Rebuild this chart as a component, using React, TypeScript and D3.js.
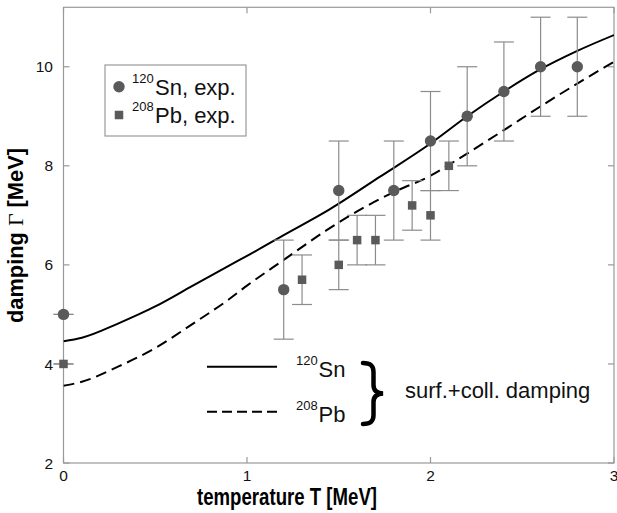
import React from "react";
import * as d3 from "d3";

// ---- data ----
const snT = [0, 1.2, 1.5, 1.8, 2.0, 2.2, 2.4, 2.6, 2.8];
const snG = [5.0, 5.5, 7.5, 7.5, 8.5, 9.0, 9.5, 10.0, 10.0];
const snErr = [0, 1, 1, 1, 1, 1, 1, 1, 1];

const pbT = [0, 1.3, 1.5, 1.6, 1.7, 1.9, 2.0, 2.1];
const pbG = [4.0, 5.7, 6.0, 6.5, 6.5, 7.2, 7.0, 8.0];
const pbErr = [0, 0.5, 0.5, 0.5, 0.5, 0.5, 0.5, 0.5];

const snCurveT = [0, 0.1, 0.3, 0.5, 0.7, 0.9, 1.0, 1.2, 1.45, 1.725, 2.0, 2.2, 2.4, 2.6, 2.8, 3.0];
const snCurveG = [4.46, 4.53, 4.82, 5.16, 5.57, 5.98, 6.18, 6.6, 7.12, 7.78, 8.45, 9.0, 9.5, 9.95, 10.32, 10.64];

const pbCurveT = [0, 0.1, 0.3, 0.5, 0.7, 0.9, 1.0, 1.2, 1.434, 1.6, 1.8, 2.0, 2.1, 2.4, 2.6, 2.8, 3.0];
const pbCurveG = [3.56, 3.64, 3.95, 4.32, 4.8, 5.3, 5.58, 6.1, 6.7, 7.08, 7.47, 7.8, 8.02, 8.72, 9.2, 9.66, 10.1];

const xTicks = [0, 1, 2, 3];
const yTicks = [2, 4, 6, 8, 10];

const FONT = "'Liberation Sans', Arial, Helvetica, sans-serif";

export default function App() {
  const L = 63.5, R = 614, T = 7.3, B = 463;
  const x = d3.scaleLinear().domain([0, 3]).range([L, R]);
  const y = d3.scaleLinear().domain([2, 11.2]).range([B, T]);

  const line = d3
    .line<[number, number]>()
    .x((d) => x(d[0]))
    .y((d) => y(d[1]))
    .curve(d3.curveMonotoneX);

  const snPath = line(snCurveT.map((t, i) => [t, snCurveG[i]]) as [number, number][]) || "";
  const pbPath = line(pbCurveT.map((t, i) => [t, pbCurveG[i]]) as [number, number][]) || "";

  const axisColor = "#999";
  const errColor = "#8c8c8c";
  const markColor = "#5a5a5a";
  const cap = 10;
  const tickLen = 6;

  const errBar = (t: number, g: number, e: number, key: string) => (
    <g key={key} stroke={errColor} strokeWidth={1.2}>
      <line x1={x(t)} x2={x(t)} y1={y(g - e)} y2={y(g + e)} />
      <line x1={x(t) - cap} x2={x(t) + cap} y1={y(g + e)} y2={y(g + e)} />
      <line x1={x(t) - cap} x2={x(t) + cap} y1={y(g - e)} y2={y(g - e)} />
    </g>
  );

  const sq = 8.5;

  return (
    <svg
      width={617}
      height={513}
      style={{ position: "absolute", left: 0, top: 0, background: "#fff" }}
      fontFamily={FONT}
    >
      <defs>
        <clipPath id="plotclip">
          <rect x={L} y={T} width={R - L} height={B - T} />
        </clipPath>
      </defs>
      <rect x={0} y={0} width={617} height={513} fill="#fff" />

      {/* frame */}
      <rect x={L} y={T} width={R - L} height={B - T} fill="none" stroke={axisColor} strokeWidth={1.2} />

      {/* ticks */}
      <g stroke={axisColor} strokeWidth={1.2}>
        {yTicks.map((v) => (
          <g key={"yt" + v}>
            <line x1={L} x2={L + tickLen} y1={y(v)} y2={y(v)} />
            <line x1={R} x2={R - tickLen} y1={y(v)} y2={y(v)} />
          </g>
        ))}
        {xTicks.map((v) => (
          <g key={"xt" + v}>
            <line x1={x(v)} x2={x(v)} y1={B} y2={B - tickLen} />
            <line x1={x(v)} x2={x(v)} y1={T} y2={T + tickLen} />
          </g>
        ))}
      </g>

      {/* tick labels */}
      <g fontSize={15.5} fill="#111">
        {yTicks.map((v) => (
          <text key={"yl" + v} x={53} y={y(v)} dy="0.36em" textAnchor="end">
            {v}
          </text>
        ))}
        {xTicks.map((v) => (
          <text key={"xl" + v} x={x(v)} y={481} textAnchor="middle">
            {v}
          </text>
        ))}
      </g>

      {/* axis titles */}
      <text
        x={287}
        y={505}
        textAnchor="middle"
        fontSize={23.5}
        fontWeight="bold"
        textLength={180}
        lengthAdjust="spacingAndGlyphs"
        fill="#000"
      >
        temperature T [MeV]
      </text>
      <text
        transform="translate(22.5,235.5) rotate(-90)"
        textAnchor="middle"
        fontSize={22}
        fontWeight="bold"
        textLength={175}
        lengthAdjust="spacingAndGlyphs"
        fill="#000"
      >
        damping <tspan fontFamily="'Liberation Serif', 'Times New Roman', serif" fontWeight="normal">Γ</tspan> [MeV]
      </text>

      {/* curves */}
      <g clipPath="url(#plotclip)" fill="none" stroke="#000" strokeWidth={2}>
        <path d={snPath} />
        <path d={pbPath} strokeDasharray="11,6" />
      </g>

      {/* error bars */}
      {snT.map((t, i) => errBar(t, snG[i], snErr[i], "se" + i))}
      {pbT.map((t, i) => errBar(t, pbG[i], pbErr[i], "pe" + i))}

      {/* markers */}
      {snT.map((t, i) => (
        <circle key={"sc" + i} cx={x(t)} cy={y(snG[i])} r={5.7} fill={markColor} />
      ))}
      {pbT.map((t, i) => (
        <rect key={"pr" + i} x={x(t) - sq / 2} y={y(pbG[i]) - sq / 2} width={sq} height={sq} fill={markColor} />
      ))}

      {/* legend box */}
      <rect x={105} y={65} width={141} height={71} fill="#fff" stroke={axisColor} strokeWidth={1.2} />
      <circle cx={119} cy={86.7} r={5.7} fill={markColor} />
      <rect x={119 - sq / 2} y={115 - sq / 2} width={sq} height={sq} fill={markColor} />
      <g fill="#111">
        <text x={132} y={83.3} fontSize={13}>120</text>
        <text x={155} y={95} fontSize={22}>Sn, exp.</text>
        <text x={132} y={110.8} fontSize={13}>208</text>
        <text x={155} y={122.5} fontSize={22}>Pb, exp.</text>
      </g>

      {/* curve legend */}
      <line x1={207} x2={277} y1={366.7} y2={366.7} stroke="#000" strokeWidth={2} />
      <line x1={207} x2={277} y1={411.7} y2={411.7} stroke="#000" strokeWidth={2} strokeDasharray="10,5" />
      <g fill="#111">
        <text x={296} y={365} fontSize={13}>120</text>
        <text x={318.5} y={376.7} fontSize={22}>Sn</text>
        <text x={296} y={410} fontSize={13}>208</text>
        <text x={318.5} y={421.7} fontSize={22}>Pb</text>
      </g>
      <path
        d="M363,363 C371,363 373.5,366 373.5,372 L373.5,385 C373.5,390 376,393 383,393.5 C376,394 373.5,397 373.5,402 L373.5,415 C373.5,421 371,424 363,424"
        fill="none"
        stroke="#000"
        strokeWidth={4.5}
        strokeLinecap="round"
      />
      <text x={405} y={398} fontSize={22} fill="#111">
        surf.+coll. damping
      </text>
    </svg>
  );
}
